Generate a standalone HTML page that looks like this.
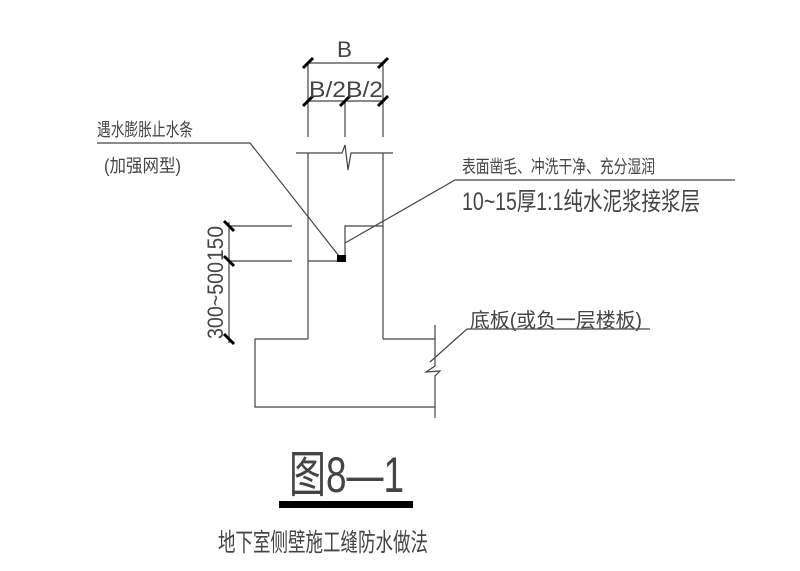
<!DOCTYPE html>
<html><head><meta charset="utf-8"><style>
html,body{margin:0;padding:0;background:#fff;}
svg{display:block;}
text{font-family:"Liberation Sans","Noto Sans CJK SC",sans-serif;fill:#444;}
</style></head><body>
<svg width="800" height="571" viewBox="0 0 800 571" xmlns="http://www.w3.org/2000/svg">
<g stroke="#444" stroke-width="1.2" fill="none">
<line x1="306" y1="63" x2="385" y2="63"/>
<line x1="306" y1="101" x2="385" y2="101"/>
<line x1="308" y1="63" x2="308" y2="137"/>
<line x1="383" y1="63" x2="383" y2="137"/>
<line x1="345" y1="101" x2="345" y2="137"/>
<polyline points="296,153 342,153 345,145 348,170 351,153 393,153"/>
<line x1="308" y1="153" x2="308" y2="339"/>
<line x1="383" y1="153" x2="383" y2="339"/>
<polyline points="345,258 345,226 383,226"/>
<line x1="308" y1="261" x2="340" y2="261"/>
<polyline points="308,339 255,339 255,407 435,407"/>
<line x1="383" y1="339" x2="435" y2="339"/>
<polyline points="435,325 435,366 426,372 440,371 435,376 435,418"/>
<line x1="229" y1="222" x2="229" y2="343"/>
<line x1="229" y1="226" x2="292" y2="226"/>
<line x1="229" y1="261" x2="292" y2="261"/>
<polyline points="97,143 250,143 339,256"/>
<polyline points="345,243 455,180 735,180"/>
<polyline points="430,362 467,329 650,329"/>
</g>
<g stroke="#000" stroke-width="3">
<line x1="303" y1="68" x2="313" y2="58"/>
<line x1="378" y1="68" x2="388" y2="58"/>
<line x1="303" y1="106" x2="313" y2="96"/>
<line x1="340" y1="106" x2="350" y2="96"/>
<line x1="378" y1="106" x2="388" y2="96"/>
<line x1="224" y1="221" x2="234" y2="231"/>
<line x1="224" y1="256" x2="234" y2="266"/>
<line x1="224" y1="334" x2="234" y2="344"/>
</g>
<rect x="337" y="255" width="9" height="7" fill="#000"/>
<rect x="279" y="501" width="134" height="7" fill="#000"/>
<g font-size="22">
<text x="337" y="57" textLength="15" lengthAdjust="spacingAndGlyphs">B</text>
<text x="309" y="97" textLength="74" lengthAdjust="spacingAndGlyphs">B/2B/2</text>
<text transform="translate(223,261) rotate(-90)" textLength="35" lengthAdjust="spacingAndGlyphs">150</text>
<text transform="translate(223,339) rotate(-90)" textLength="77" lengthAdjust="spacingAndGlyphs">300~500</text>
</g>
<g font-size="18">
<text x="97" y="136" textLength="96" lengthAdjust="spacingAndGlyphs">遇水膨胀止水条</text>
<text x="104" y="172" textLength="77" lengthAdjust="spacingAndGlyphs">(加强网型)</text>
<text x="462" y="173" textLength="193" lengthAdjust="spacingAndGlyphs">表面凿毛、冲洗干净、充分湿润</text>
<text x="470" y="327" font-size="20" textLength="172" lengthAdjust="spacingAndGlyphs">底板(或负一层楼板)</text>
</g>
<text x="462" y="210" font-size="25" textLength="238" lengthAdjust="spacingAndGlyphs">10~15厚1:1纯水泥浆接浆层</text>
<text x="289" y="492" font-size="50" fill="#666" textLength="115" lengthAdjust="spacingAndGlyphs">图8—1</text>
<text x="218" y="551" font-size="25" textLength="210" lengthAdjust="spacingAndGlyphs">地下室侧壁施工缝防水做法</text>
</svg>
</body></html>
